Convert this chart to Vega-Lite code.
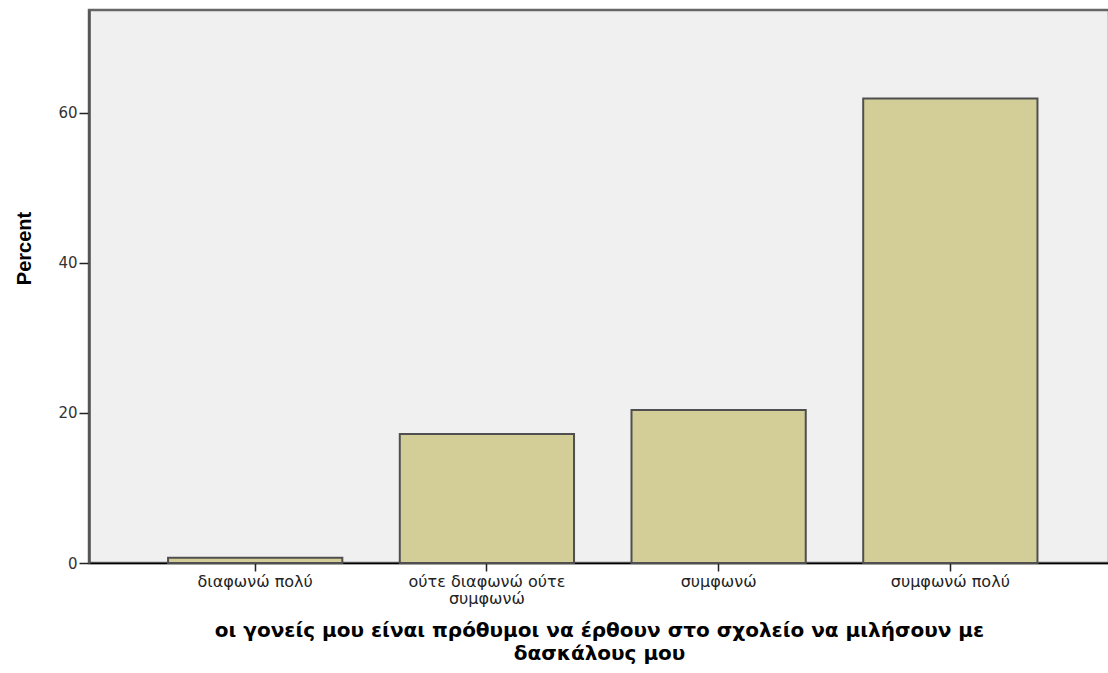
{
  "$schema": "https://vega.github.io/schema/vega-lite/v6.json",
  "autosize": "none",
  "width": 1020,
  "height": 553,
  "padding": {"left": 89, "top": 10, "right": 0, "bottom": 110},
  "background": "white",
  "config": {
    "view": {"fill": "#F0F0F0", "stroke": "#666666", "strokeWidth": 2.5},
    "font": "DejaVu Sans"
  },
  "data": {
    "values": [
      {"category": "διαφωνώ πολύ", "percent": 0.7},
      {"category": "ούτε διαφωνώ ούτε συμφωνώ", "percent": 17.2},
      {"category": "συμφωνώ", "percent": 20.4},
      {"category": "συμφωνώ πολύ", "percent": 61.9}
    ]
  },
  "mark": {"type": "bar", "fill": "#D3CE97", "stroke": "#4F4F4F", "strokeWidth": 2},
  "encoding": {
    "x": {
      "field": "category",
      "type": "nominal",
      "sort": null,
      "scale": {"paddingInner": 0.248, "paddingOuter": 0.325, "align": 0.525},
      "axis": {
        "title": ["οι γονείς μου είναι πρόθυμοι να έρθουν στο σχολείο να μιλήσουν με", "δασκάλους μου"],
        "titleFont": "DejaVu Sans",
        "titleFontSize": 20,
        "titleFontWeight": "bold",
        "titleColor": "#000000",
        "titlePadding": 14,
        "titleLineHeight": 23,
        "labelAngle": 0,
        "labelFont": "DejaVu Sans",
        "labelFontSize": 16,
        "labelColor": "#222222",
        "labelPadding": 2,
        "labelLineHeight": 17,
        "labelExpr": "datum.label == 'ούτε διαφωνώ ούτε συμφωνώ' ? ['ούτε διαφωνώ ούτε', 'συμφωνώ'] : datum.label",
        "domainColor": "#000000",
        "domainWidth": 1.5,
        "tickColor": "#222222",
        "tickWidth": 1.5,
        "tickSize": 8
      }
    },
    "y": {
      "field": "percent",
      "type": "quantitative",
      "scale": {"domain": [0, 73.7], "nice": false},
      "axis": {
        "title": "Percent",
        "titleFont": "Liberation Sans",
        "titleFontSize": 20,
        "titleFontWeight": "bold",
        "titleColor": "#000000",
        "titleX": -55,
        "titleY": 238,
        "values": [0, 20, 40, 60],
        "grid": false,
        "labelFont": "DejaVu Sans",
        "labelFontSize": 15,
        "labelColor": "#333333",
        "labelPadding": 2,
        "domainColor": "#555555",
        "domainWidth": 2.5,
        "tickColor": "#222222",
        "tickWidth": 1.5,
        "tickSize": 10
      }
    }
  }
}
